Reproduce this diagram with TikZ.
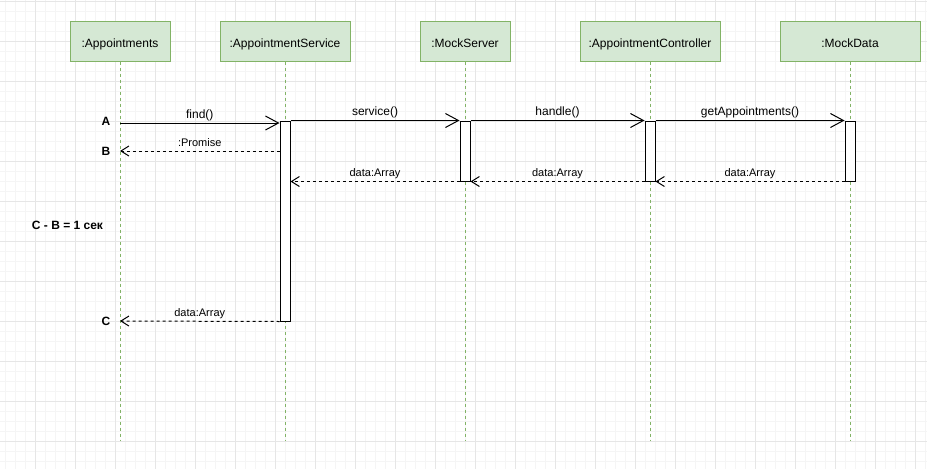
\documentclass[tikz,border=0pt]{standalone}
\usepackage{fontspec}
\setmainfont{Liberation Sans}
\usetikzlibrary{arrows.meta}
\definecolor{gridminor}{HTML}{F5F5F5}
\definecolor{gridmajor}{HTML}{E6E6E6}
\definecolor{headfill}{HTML}{D5E8D4}
\definecolor{headline}{HTML}{82B366}
\begin{document}
\begin{tikzpicture}[x=1pt,y=-1pt,line width=1pt,
  head/.style={draw=headline, fill=headfill, minimum width=#1, minimum height=40pt,
    inner sep=0pt, text height=12pt, text depth=0pt,
    font=\fontsize{12}{14}\selectfont},
  life/.style={draw=headline, dash pattern=on 3pt off 3pt},
  bar/.style={draw=black, fill=white, minimum width=10pt, minimum height=#1,
    inner sep=0pt},
  call/.style={draw=black, -{Straight Barb[length=13pt,width=14pt]}},
  reply/.style={draw=black, dash pattern=on 3pt off 3pt,
    -{Straight Barb[length=8pt,width=10pt]}},
  clbl/.style={font=\fontsize{12}{14}\selectfont, inner sep=0pt, anchor=base, yshift=5pt},
  rlbl/.style={font=\fontsize{11}{13}\selectfont, inner sep=0pt, anchor=base, yshift=5pt},
  tmark/.style={font=\bfseries\fontsize{12}{14}\selectfont, inner sep=0pt}
]
\useasboundingbox (0,0) rectangle (927,469);
% background grid
\fill[white] (0,0) rectangle (927,469);
\foreach \x in {5,15,...,925} \draw[gridminor] (\x,0) -- (\x,469);
\foreach \y in {1,11,...,461} \draw[gridminor] (0,\y) -- (927,\y);
\foreach \x in {35,75,...,915} \draw[gridmajor] (\x,0) -- (\x,469);
\foreach \y in {1,41,...,441} \draw[gridmajor] (0,\y) -- (927,\y);

% lifeline heads
\node[head=100pt] (appt) at (120,41) {:Appointments};
\node[head=130pt] (svc)  at (285,41) {:AppointmentService};
\node[head=90pt]  (srv)  at (465,41) {:MockServer};
\node[head=140pt] (ctl)  at (650,41) {:AppointmentController};
\node[head=140pt] (dat)  at (850,41) {:MockData};

% lifelines
\foreach \n in {appt,svc,srv,ctl,dat}
  \draw[life] (\n.south) -- (\n.south |- 0,441);

% activation bars
\node[bar=200pt] (bsvc) at (285,221) {};
\node[bar=60pt]  (bsrv) at (465,151) {};
\node[bar=60pt]  (bctl) at (650,151) {};
\node[bar=60pt]  (bdat) at (850,151) {};

% end points on the Appointments lifeline
\coordinate (pA) at (appt.south |- 0,123);
\coordinate (pB) at (appt.south |- 0,151);
\coordinate (pC) at (appt.south |- 0,321);

% calls
\draw[call] (pA) -- (bsvc.west |- pA) node[clbl, midway] {find()};
\draw[call] (bsvc.north east) -- (bsrv.north west) node[clbl, midway] {service()};
\draw[call] (bsrv.north east) -- (bctl.north west) node[clbl, midway] {handle()};
\draw[call] (bctl.north east) -- (bdat.north west) node[clbl, midway] {getAppointments()};

% replies
\draw[reply] (bsvc.west |- pB) -- (pB) node[rlbl, midway] {:Promise};
\draw[reply] (bdat.south west) -- (bctl.south east) node[rlbl, midway] {data:Array};
\draw[reply] (bctl.south west) -- (bsrv.south east) node[rlbl, midway] {data:Array};
\draw[reply] (bsrv.south west) -- (bsvc.east |- bsrv.south) node[rlbl, midway] {data:Array};
\draw[reply] (bsvc.south west) -- (pC) node[rlbl, midway] {data:Array};

% time marks
\node[tmark] (mA) at (106,121) {A};
\node[tmark] (mB) at (106,151) {B};
\node[tmark] (mC) at (106,321) {C};
\node[tmark] (dt) at (67.5,225) {C - B = 1 сек};
\end{tikzpicture}
\end{document}
